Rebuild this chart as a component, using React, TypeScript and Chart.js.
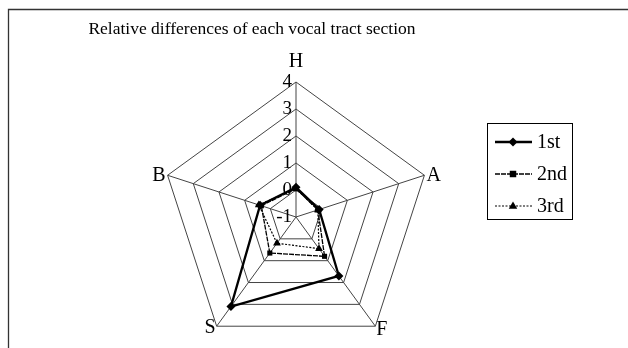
import React, { useEffect, useRef } from "react";
import { Chart, registerables } from "chart.js";

Chart.register(...registerables);

const categories = ["H", "A", "F", "S", "B"];
const seriesNames = ["1st", "2nd", "3rd"];
const firstValues = [0.1, -0.1, 1.7, 3.1, 0.4];
const secondValues = [0.05, -0.15, 0.8, 0.65, 0.35];
const thirdValues = [0.05, -0.15, 0.45, 0.2, 0.45];
const tickMin = -1;
const tickMax = 4;
const tickStep = 1;
const titleText = "Relative differences of each vocal tract section";

const W = 628;
const H = 348;
const FONT = '"Liberation Serif", "Times New Roman", serif';
const plotCenterX = 296;
const plotCenterY = 217;
const plotRadius = 135;

const seriesStyles = [
  { width: 2.3, dash: [] as number[], point: "rectRot", radius: 4.5 },
  { width: 1.3, dash: [5, 1], point: "rect", radius: 3.6 },
  { width: 1.2, dash: [2, 1.5], point: "triangle", radius: 4.5 },
];

function drawMarker(ctx: CanvasRenderingContext2D, style: string, x: number, y: number, r: number) {
  ctx.beginPath();
  if (style === "rectRot") {
    ctx.moveTo(x, y - r);
    ctx.lineTo(x + r, y);
    ctx.lineTo(x, y + r);
    ctx.lineTo(x - r, y);
  } else if (style === "rect") {
    const s = r * 0.9;
    ctx.rect(x - s, y - s, 2 * s, 2 * s);
  } else {
    ctx.moveTo(x, y - r);
    ctx.lineTo(x + r * 0.95, y + r * 0.6);
    ctx.lineTo(x - r * 0.95, y + r * 0.6);
  }
  ctx.closePath();
  ctx.fill();
}

const decorPlugin = {
  id: "decor",
  beforeDatasetsDraw(chart: any) {
    const ctx: CanvasRenderingContext2D = chart.ctx;
    const scale = chart.scales.r;
    ctx.save();
    ctx.fillStyle = "#000";
    ctx.font = `19px ${FONT}`;
    ctx.textAlign = "right";
    ctx.textBaseline = "middle";
    scale.ticks.forEach((t: any) => {
      const d = scale.getDistanceFromCenterForValue(t.value);
      ctx.fillText(String(t.value), scale.xCenter - 4, scale.yCenter - d);
    });
    ctx.restore();
  },
  afterDraw(chart: any) {
    const ctx: CanvasRenderingContext2D = chart.ctx;
    const scale = chart.scales.r;
    ctx.save();
    // frame
    ctx.strokeStyle = "#333";
    ctx.lineWidth = 1.3;
    ctx.beginPath();
    ctx.moveTo(8.5, H);
    ctx.lineTo(8.5, 9.5);
    ctx.lineTo(W, 9.5);
    ctx.stroke();

    // title
    ctx.fillStyle = "#000";
    ctx.font = `17.5px ${FONT}`;
    ctx.textAlign = "center";
    ctx.textBaseline = "alphabetic";
    ctx.fillText(titleText, 252, 34);

    // point labels
    ctx.font = `20px ${FONT}`;
    categories.forEach((lab, i) => {
      const p = scale.getPointPosition(i, scale.drawingArea);
      let x = p.x;
      let y = p.y;
      if (i === 0) {
        ctx.textAlign = "center";
        ctx.textBaseline = "alphabetic";
        y -= 15;
      } else if (i === 1) {
        ctx.textAlign = "left";
        ctx.textBaseline = "middle";
        x += 2;
      } else if (i === 2) {
        ctx.textAlign = "left";
        ctx.textBaseline = "middle";
        x += 1;
        y += 4;
      } else if (i === 3) {
        ctx.textAlign = "right";
        ctx.textBaseline = "middle";
        x -= 1;
        y += 2;
      } else {
        ctx.textAlign = "right";
        ctx.textBaseline = "middle";
        x -= 2;
      }
      ctx.fillText(lab, x, y);
    });

    // legend
    ctx.strokeStyle = "#000";
    ctx.lineWidth = 1;
    ctx.strokeRect(487.5, 123.5, 85, 96);
    const rows = [142, 174, 206];
    seriesNames.forEach((name, i) => {
      const st = seriesStyles[i];
      const y = rows[i];
      ctx.strokeStyle = "#000";
      ctx.lineWidth = st.width;
      ctx.setLineDash(st.dash);
      ctx.beginPath();
      ctx.moveTo(495, y);
      ctx.lineTo(532, y);
      ctx.stroke();
      ctx.setLineDash([]);
      ctx.fillStyle = "#000";
      drawMarker(ctx, st.point, 513, y, st.radius);
      ctx.font = `20px ${FONT}`;
      ctx.textAlign = "left";
      ctx.textBaseline = "middle";
      ctx.fillText(name, 537, y + 1);
    });
    ctx.restore();
  },
};

export default function App() {
  const ref = useRef<HTMLCanvasElement | null>(null);
  useEffect(() => {
    if (!ref.current) return;
    const values = [firstValues, secondValues, thirdValues];
    const chart = new Chart(ref.current, {
      type: "radar",
      data: {
        labels: categories,
        datasets: seriesNames.map((name, i) => ({
          label: name,
          data: values[i],
          borderColor: "#000",
          backgroundColor: "transparent",
          borderWidth: seriesStyles[i].width,
          borderDash: seriesStyles[i].dash,
          fill: false,
          tension: 0,
          pointStyle: seriesStyles[i].point as any,
          pointRadius: seriesStyles[i].radius,
          pointBackgroundColor: "#000",
          pointBorderColor: "#000",
          pointBorderWidth: 0,
        })),
      },
      options: {
        animation: false,
        responsive: false,
        devicePixelRatio: 1,
        events: [],
        layout: { padding: 0 },
        plugins: {
          legend: { display: false },
          title: { display: false },
          tooltip: { enabled: false },
        },
        scales: {
          r: {
            min: tickMin,
            max: tickMax,
            beginAtZero: false,
            ticks: { display: false, stepSize: tickStep },
            pointLabels: { display: false },
            grid: { color: "#444", lineWidth: 1, circular: false },
            angleLines: { color: "#444", lineWidth: 1 },
            afterFit: (scale: any) => {
              scale.xCenter = plotCenterX;
              scale.yCenter = plotCenterY;
              scale.drawingArea = plotRadius;
            },
          },
        },
      },
      plugins: [decorPlugin],
    });
    return () => chart.destroy();
  }, []);
  return (
    <div style={{ position: "absolute", left: 0, top: 0, width: W, height: H, background: "#fff" }}>
      <canvas ref={ref} width={W} height={H} style={{ display: "block" }} />
    </div>
  );
}
